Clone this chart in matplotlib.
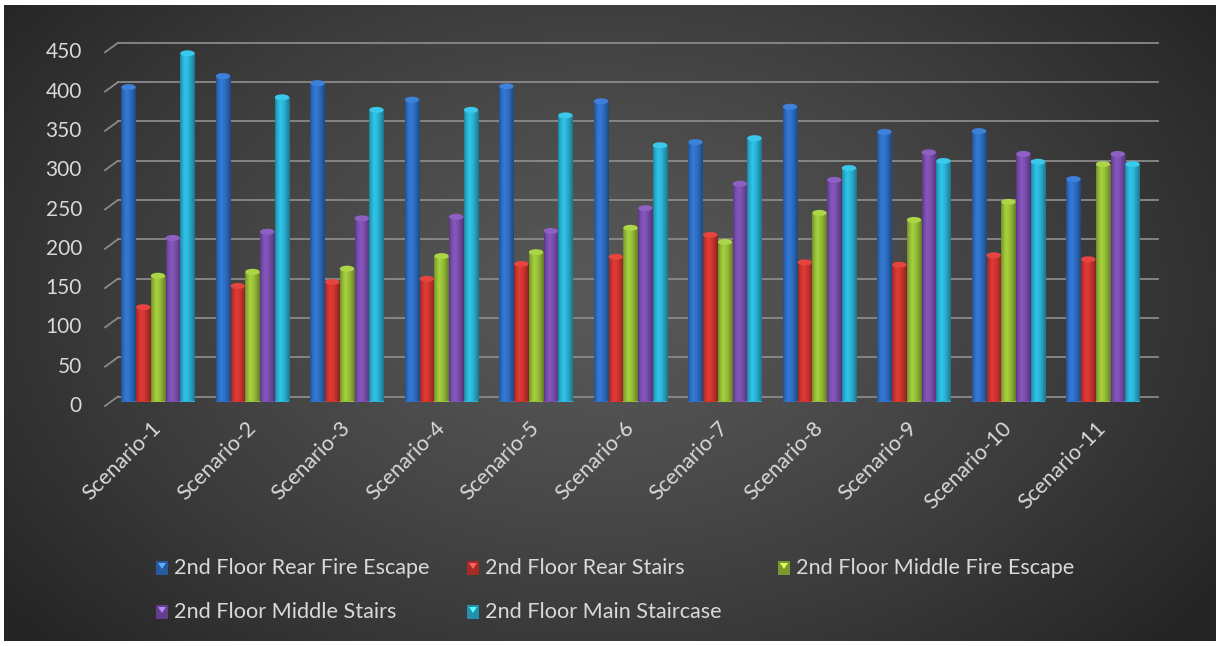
import matplotlib.pyplot as plt
import numpy as np
from matplotlib.patches import Ellipse, Rectangle, Polygon
from matplotlib.colors import to_rgb

scenarios = ["Scenario-%d" % i for i in range(1, 12)]
series_names = ["2nd Floor Rear Fire Escape", "2nd Floor Rear Stairs",
                "2nd Floor Middle Fire Escape", "2nd Floor Middle Stairs",
                "2nd Floor Main Staircase"]
rear_fire_escape = [400, 414, 405, 384, 401, 382, 330, 375, 343, 344, 283]
rear_stairs = [120, 147, 152, 156, 175, 184, 212, 177, 174, 186, 181]
middle_fire_escape = [160, 165, 169, 185, 190, 221, 203, 240, 231, 254, 302]
middle_stairs = [208, 216, 233, 235, 217, 246, 277, 282, 317, 315, 315]
main_staircase = [443, 387, 371, 371, 364, 326, 335, 297, 306, 305, 302]
series = [rear_fire_escape, rear_stairs, middle_fire_escape, middle_stairs, main_staircase]
colors = ["#2f6fc4", "#cf3530", "#98bf38", "#7b4fae", "#2bb3d6"]
yticks = list(range(0, 451, 50))

W, H = 1216, 646
plt.rcParams['font.family'] = ['Lato', 'DejaVu Sans']
text_color = "#d9d9d9"
fig = plt.figure(figsize=(W / 100, H / 100), dpi=100, facecolor="white")

# dark radial background inside a thin white frame
bg = fig.add_axes([4 / W, 5 / H, (W - 4) / W, (H - 10) / H], zorder=-10)
gx, gy = np.meshgrid(np.linspace(0, W, 400), np.linspace(0, H, 220))
r = np.sqrt(((gx - 600) / (W * 0.62)) ** 2 + ((gy - 300) / (H * 0.8)) ** 2)
shade = (0x58 - (0x58 - 0x25) * np.clip(r, 0, 1) ** 1.3) / 255
bg.imshow(np.dstack([shade] * 3), aspect="auto", extent=[0, 1, 0, 1], interpolation="bicubic")
bg.axis("off")

# plot area in pixel terms
left_px, right_px, base_px, top_px = 105, 1158, 401.5, 47.8
ax = fig.add_axes([left_px / W, (H - base_px) / H, (right_px - left_px) / W,
                   (base_px - top_px) / H])
ax.set_facecolor("none")
ax.set_xlim(-0.561, 10.582)
ax.set_ylim(0, 450)
px_per_unit = (base_px - top_px) / 450.0
for s in ax.spines.values():
    s.set_visible(False)


def px(v):
    return v / px_per_unit


# back-wall gridlines with little depth strokes on the left
back_start = 13 / (right_px - left_px)
for v in yticks:
    ax.plot([back_start, 1.0], [v + px(5), v + px(5)], transform=ax.get_yaxis_transform(),
            color="#8a8a8a", lw=1.3, zorder=1, clip_on=False)
    ax.plot([0, back_start], [v - px(4.5), v + px(5)], transform=ax.get_yaxis_transform(),
            color="#8a8a8a", lw=1.3, zorder=1, clip_on=False)
    ax.text(-23 / (right_px - left_px), v - px(4.5), str(v), transform=ax.get_yaxis_transform(),
            ha="right", va="center", fontsize=15, color=text_color)
ax.set_yticks([])

# shading across a cylinder
prof_x = [0.0, 0.12, 0.35, 0.6, 0.85, 1.0]
prof_v = [0.72, 0.92, 1.1, 1.0, 0.8, 0.65]
shade_line = np.interp(np.linspace(0, 1, 48), prof_x, prof_v)

x = np.arange(len(scenarios))
bw = 0.152
step = 0.156
cap_h = px(6)
for i, (vals, col) in enumerate(zip(series, colors)):
    base = np.array(to_rgb(col))
    grad = np.clip(shade_line[:, None] * base[None, :], 0, 1)[None, :, :]
    cap_col = np.clip(base * 1.05 + 0.05, 0, 1)
    bars = ax.bar(x + (i - 2) * step, vals, width=bw, color=col, zorder=3, lw=0)
    for b in bars:
        x0, w, h = b.get_x(), b.get_width(), b.get_height()
        im = ax.imshow(grad, aspect="auto", extent=[x0, x0 + w, 0, h], zorder=3.1,
                       interpolation="bilinear")
        im.set_clip_path(b)
        ax.add_patch(Ellipse((x0 + w / 2, 0), w, cap_h, color=base * 0.8, zorder=2.9, lw=0))
        ax.add_patch(Ellipse((x0 + w / 2, h), w, cap_h, color=cap_col, zorder=3.2, lw=0))

ax.set_xticks(x)
ax.set_xticklabels(scenarios, rotation=45, ha="right", va="center", rotation_mode="anchor",
                   fontsize=15.5, color=text_color)
ax.tick_params(axis="x", length=0, pad=17)

# legend laid out in three fixed-width columns
for k, (name, col) in enumerate(zip(series_names, colors)):
    cx = 156 + (k % 3) * 311
    cy = 568 + (k // 3) * 44
    base = np.array(to_rgb(col))
    fig.add_artist(Rectangle(((cx) / W, (H - cy - 7) / H), 12 / W, 14 / H,
                             transform=fig.transFigure, color=base * 0.8, lw=0))
    fig.add_artist(Polygon([((cx + 2) / W, (H - cy + 5) / H), ((cx + 10) / W, (H - cy + 5) / H),
                            ((cx + 6) / W, (H - cy - 1) / H)],
                           transform=fig.transFigure, color=np.clip(base * 1.2 + 0.15, 0, 1), lw=0))
    fig.text((cx + 18) / W, (H - cy) / H, name, ha="left", va="center",
             fontsize=15.6, color=text_color)

plt.savefig("out.png", dpi=100, facecolor=fig.get_facecolor())
